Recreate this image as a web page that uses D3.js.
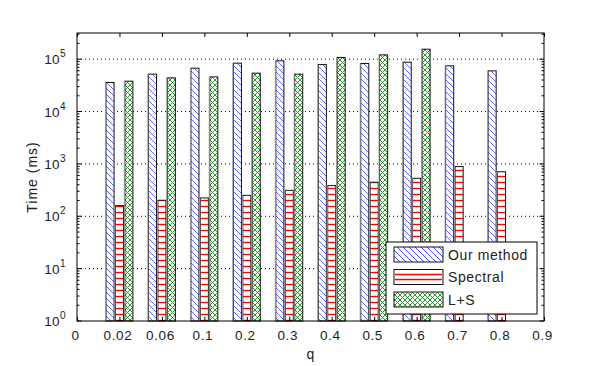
<!DOCTYPE html>
<html><head><meta charset="utf-8">
<script src="https://cdn.jsdelivr.net/npm/d3@7"></script>
<style>body{margin:0;background:#fff}svg{display:block}text{font-family:"Liberation Sans",Arial,sans-serif;fill:#222}</style>
</head><body><svg id="c" width="606" height="366"></svg>
<script>
const tickLabels = ["0","0.02","0.06","0.1","0.2","0.3","0.4","0.5","0.6","0.7","0.8","0.9"];
const categories = ["0.02","0.06","0.1","0.2","0.3","0.4","0.5","0.6","0.7","0.8"];
const ourMethod = [35900, 51800, 67300, 84000, 93000, 79000, 82800, 87700, 74600, 59800];
const spectral  = [160, 202, 224, 251, 313, 385, 447, 531, 890, 708];
const lplusS    = [38000, 44000, 45900, 54100, 51800, 107700, 120800, 155000, null, null];
const seriesNames = ["Our method","Spectral","L+S"];
const yTickExps = [0,1,2,3,4,5];

const svg = d3.select("#c");
const L=77,R=544,T=33,B=321;
const x = d3.scaleLinear().domain([0, tickLabels.length-1]).range([L,R]);
const y = d3.scaleLog().domain([1, Math.pow(10,5.5)]).range([B,T]);

const defs = svg.append("defs");
const pb = defs.append("pattern").attr("id","pBlue").attr("patternUnits","userSpaceOnUse").attr("width",6).attr("height",6);
pb.append("rect").attr("width",6).attr("height",6).attr("fill","#fff");
pb.append("path").attr("d","M-1,-1L7,7M-1,5L1,7M5,-1L7,1").attr("stroke","#5555ff").attr("stroke-width",0.9);
const pr = defs.append("pattern").attr("id","pRed").attr("patternUnits","userSpaceOnUse").attr("width",6).attr("height",6);
pr.append("rect").attr("width",6).attr("height",6).attr("fill","#fff");
pr.append("line").attr("x1",0).attr("x2",6).attr("y1",2.5).attr("y2",2.5).attr("stroke","#ff0000").attr("stroke-width",1.3);
const pg = defs.append("pattern").attr("id","pGreen").attr("patternUnits","userSpaceOnUse").attr("width",5).attr("height",5);
pg.append("rect").attr("width",5).attr("height",5).attr("fill","#fff");
pg.append("path").attr("d","M0,0L5,5M0,5L5,0").attr("stroke","#109010").attr("stroke-width",0.9);
const lb = defs.append("pattern").attr("id","lBlue").attr("patternUnits","userSpaceOnUse").attr("width",6).attr("height",6);
lb.append("rect").attr("width",6).attr("height",6).attr("fill","#fff");
lb.append("path").attr("d","M-1,-1L7,7M-1,5L1,7M5,-1L7,1").attr("stroke","#3333ff").attr("stroke-width",0.9);

svg.append("g").selectAll("line").data(yTickExps.slice(1)).join("line")
  .attr("x1",L).attr("x2",R).attr("y1",d=>y(Math.pow(10,d))).attr("y2",d=>y(Math.pow(10,d)))
  .attr("stroke","#000").attr("stroke-width",1).attr("stroke-dasharray","1,3");

const fills = ["url(#pBlue)","url(#pRed)","url(#pGreen)"];
const series = [ourMethod, spectral, lplusS];
const off = 0.222, bw = 0.19*(x(1)-x(0));
series.forEach((vals,s)=>{
  const data = vals.map((v,i)=>({v,i})).filter(d=>d.v!=null);
  svg.append("g").selectAll("rect").data(data).join("rect")
    .attr("x",d=>x(d.i+1+(s-1)*off)-bw/2)
    .attr("y",d=>y(d.v))
    .attr("width",bw)
    .attr("height",d=>y(1)-y(d.v))
    .attr("fill",fills[s])
    .attr("stroke","#111").attr("stroke-width",1);
  svg.append("g").selectAll("line").data(data).join("line")
    .attr("x1",d=>x(d.i+1+(s-1)*off)-bw/2-0.5).attr("x2",d=>x(d.i+1+(s-1)*off)-bw/2-0.5)
    .attr("y1",d=>y(d.v)).attr("y2",B)
    .attr("stroke","#999").attr("stroke-width",1);
});

svg.append("rect").attr("x",L).attr("y",T).attr("width",R-L).attr("height",B-T)
  .attr("fill","none").attr("stroke","#000").attr("stroke-width",1);

const xAxis = d3.axisBottom(x).tickValues(d3.range(tickLabels.length)).tickFormat(i=>tickLabels[i]).tickSize(-4).tickPadding(9);
const gx = svg.append("g").attr("transform",`translate(0,${B})`).call(xAxis);
gx.select(".domain").remove();
gx.selectAll("text").attr("font-family",null).style("font-size","13.5px").style("letter-spacing","0.6px").attr("dx","-2");
const gxt = svg.append("g").attr("transform",`translate(0,${T})`).call(d3.axisTop(x).tickValues(d3.range(tickLabels.length)).tickSize(-4).tickFormat(""));
gxt.select(".domain").remove();

const minor = [];
for(let e=0;e<6;e++) for(let m=2;m<=9;m++){const v=m*Math.pow(10,e); if(v<=Math.pow(10,5.5)) minor.push(v);}
[L,R].forEach((px,k)=>{
  const dir = k===0?1:-1;
  svg.append("g").selectAll("line").data(minor).join("line")
    .attr("x1",px).attr("x2",px+dir*2.5).attr("y1",d=>y(d)).attr("y2",d=>y(d)).attr("stroke","#000");
  svg.append("g").selectAll("line").data(yTickExps).join("line")
    .attr("x1",px).attr("x2",px+dir*4.5).attr("y1",d=>y(Math.pow(10,d))).attr("y2",d=>y(Math.pow(10,d))).attr("stroke","#000");
});
const yl = svg.append("g").selectAll("text").data(yTickExps).join("text")
  .attr("x",66).attr("y",d=>y(Math.pow(10,d))+5).attr("text-anchor","end").style("font-size","13.5px").style("letter-spacing","0.4px");
yl.append("tspan").text("10");
yl.append("tspan").attr("dy",-7).style("font-size","10px").text(d=>d);

svg.append("text").attr("transform",`translate(37,${(T+B)/2}) rotate(-90)`).attr("text-anchor","middle")
  .style("font-size","14px").style("letter-spacing","1px").text("Time (ms)");
svg.append("text").attr("x",(L+R)/2).attr("y",359).attr("text-anchor","middle").style("font-size","14px").text("q");

const lg = svg.append("g");
lg.append("rect").attr("x",386).attr("y",242).attr("width",151).attr("height",72).attr("fill","#fff").attr("stroke","#000");
const rows = [247,269.5,292];
seriesNames.forEach((n,i)=>{
  const sw = lg.append("rect").attr("x",394).attr("y",rows[i]).attr("width",49).attr("height",15).attr("stroke","#111");
  if(i===0) sw.attr("fill","url(#lBlue)");
  if(i===1){ sw.attr("fill","#fff");
    lg.append("line").attr("x1",395).attr("x2",442).attr("y1",rows[i]+5).attr("y2",rows[i]+5).attr("stroke","#f00").attr("stroke-width",1.3);
    lg.append("line").attr("x1",395).attr("x2",442).attr("y1",rows[i]+10).attr("y2",rows[i]+10).attr("stroke","#f00").attr("stroke-width",1.3);
  }
  if(i===2) sw.attr("fill","url(#pGreen)");
  lg.append("text").attr("x",448).attr("y",rows[i]+12.5).style("font-size","14px").style("letter-spacing","0.6px").text(n);
});
</script></body></html>
